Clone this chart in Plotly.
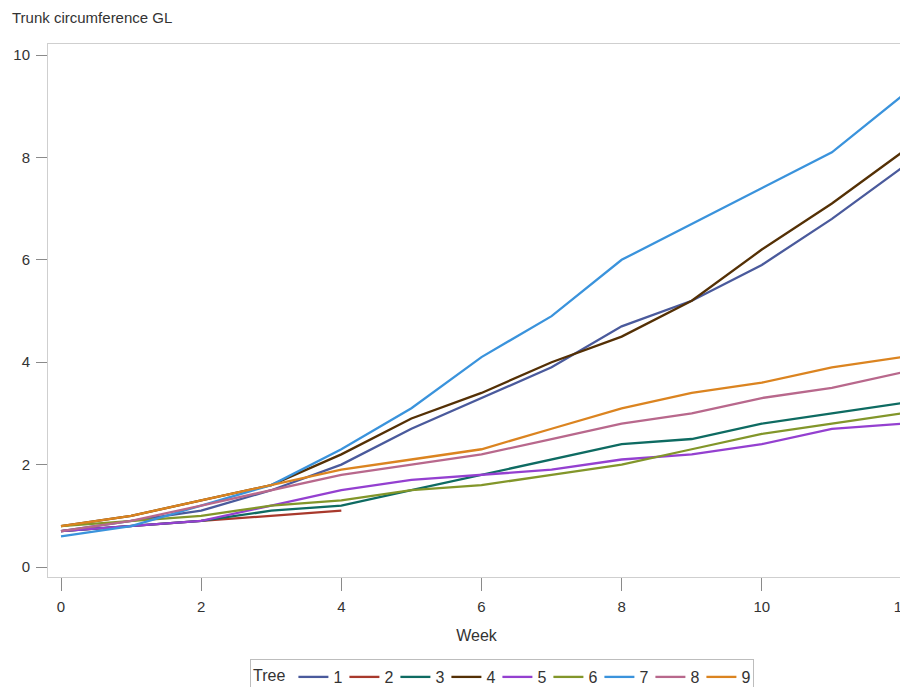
import plotly.graph_objects as go

weeks = list(range(13))
trees = ["1", "2", "3", "4", "5", "6", "7", "8", "9"]
tree1 = [0.7, 0.9, 1.1, 1.5, 2.0, 2.7, 3.3, 3.9, 4.7, 5.2, 5.9, 6.8, 7.8]
tree2 = [0.7, 0.8, 0.9, 1.0, 1.1]
tree3 = [0.7, 0.8, 0.9, 1.1, 1.2, 1.5, 1.8, 2.1, 2.4, 2.5, 2.8, 3.0, 3.2]
tree4 = [0.8, 1.0, 1.3, 1.6, 2.2, 2.9, 3.4, 4.0, 4.5, 5.2, 6.2, 7.1, 8.1]
tree5 = [0.7, 0.8, 0.9, 1.2, 1.5, 1.7, 1.8, 1.9, 2.1, 2.2, 2.4, 2.7, 2.8]
tree6 = [0.8, 0.9, 1.0, 1.2, 1.3, 1.5, 1.6, 1.8, 2.0, 2.3, 2.6, 2.8, 3.0]
tree7 = [0.6, 0.8, 1.2, 1.6, 2.3, 3.1, 4.1, 4.9, 6.0, 6.7, 7.4, 8.1, 9.2]
tree8 = [0.7, 0.9, 1.2, 1.5, 1.8, 2.0, 2.2, 2.5, 2.8, 3.0, 3.3, 3.5, 3.8]
tree9 = [0.8, 1.0, 1.3, 1.6, 1.9, 2.1, 2.3, 2.7, 3.1, 3.4, 3.6, 3.9, 4.1]
series = [tree1, tree2, tree3, tree4, tree5, tree6, tree7, tree8, tree9]
colors = ["#4a5a9c", "#A8392C", "#0E6B62", "#543005", "#9440D0",
          "#82962A", "#3A93DC", "#B8688C", "#DB8420"]
x_ticks = [0, 2, 4, 6, 8, 10, 12]
y_ticks = [0, 2, 4, 6, 8, 10]

FONT = "Liberation Sans, Arial, sans-serif"
TXT = "#333333"

fig = go.Figure()
for name, vals, col in zip(trees, series, colors):
    fig.add_trace(go.Scatter(
        x=weeks[:len(vals)], y=vals, mode="lines", name=name,
        line=dict(color=col, width=2.3),
    ))

axis_common = dict(
    showline=True, linecolor="#cfcfcf", linewidth=1, mirror=True,
    ticks="outside", tickcolor="#8a8a8a", tickwidth=1,
    showgrid=False, zeroline=False, automargin=False,
    ticklabelstandoff=3, ticklabeloverflow="allow",
    tickfont=dict(family=FONT, size=15, color=TXT),
)

# page body has an 8px margin: figure is drawn 8px right/down on screen,
# so size it to fill the 908x687 window exactly.
W, H = 900, 679
PL, PR, PT, PB = 40, 897, 36, 569
pw, ph = PR - PL, PB - PT

fig.update_layout(
    width=W, height=H,
    margin=dict(l=PL, r=W - PR, t=PT, b=H - PB),
    paper_bgcolor="white", plot_bgcolor="white",
    font=dict(family=FONT, size=15, color=TXT),
    xaxis=dict(range=[-0.1855, 12.043], tickvals=x_ticks, ticklen=13,
               title=dict(text="Week", font=dict(family=FONT, size=16, color=TXT), standoff=15),
               **axis_common),
    yaxis=dict(range=[-0.195, 10.215], tickvals=y_ticks, ticklen=11, **axis_common),
    legend=dict(
        orientation="h", xref="container", yref="container",
        x=242 / W, xanchor="left",
        y=1 - 651 / H, yanchor="top",
        title=dict(text="Tree", font=dict(family=FONT, size=16, color=TXT)),
        font=dict(family=FONT, size=16, color=TXT),
        bordercolor="#bdbdbd", borderwidth=1, itemwidth=30,
        entrywidth=6, entrywidthmode="pixels",
        tracegroupgap=0,
    ),
    annotations=[dict(
        text="Trunk circumference GL", xref="paper", yref="paper",
        x=(2 - PL) / pw, y=1 + (PT - 10) / ph, xanchor="left", yanchor="middle",
        showarrow=False, font=dict(family=FONT, size=15, color=TXT),
    )],
)

fig.write_html("out.html")
